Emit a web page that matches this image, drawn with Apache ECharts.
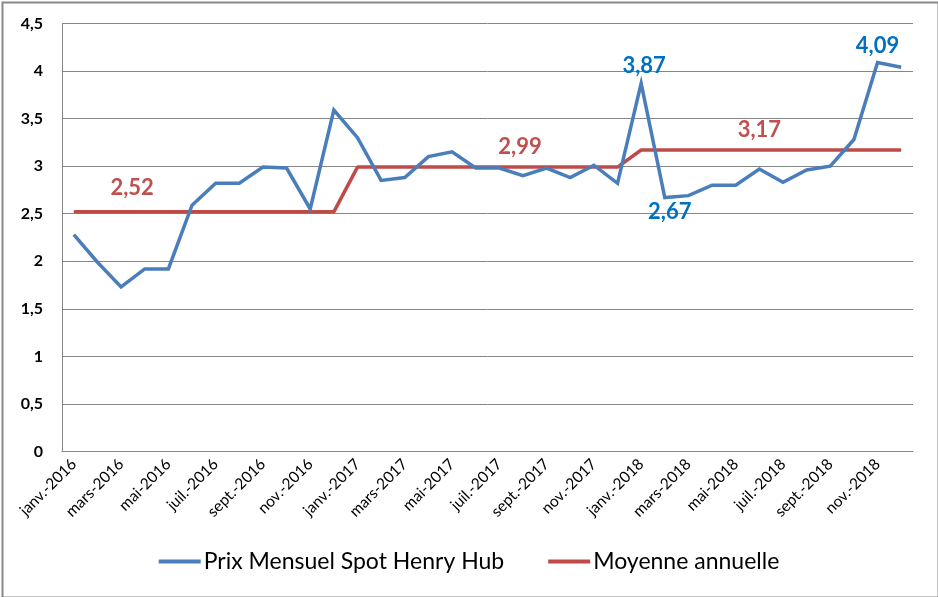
<!DOCTYPE html>
<html>
<head>
<meta charset="utf-8">
<script src="https://cdn.jsdelivr.net/npm/echarts@6/dist/echarts.min.js"></script>
<style>html,body{margin:0;padding:0;background:#fff}#c{width:938px;height:597px}</style>
</head>
<body>
<div id="c"></div>
<script>
const categories = [
  'janv.-2016','févr.-2016','mars-2016','avr.-2016','mai-2016','juin-2016','juil.-2016','août-2016','sept.-2016','oct.-2016','nov.-2016','déc.-2016',
  'janv.-2017','févr.-2017','mars-2017','avr.-2017','mai-2017','juin-2017','juil.-2017','août-2017','sept.-2017','oct.-2017','nov.-2017','déc.-2017',
  'janv.-2018','févr.-2018','mars-2018','avr.-2018','mai-2018','juin-2018','juil.-2018','août-2018','sept.-2018','oct.-2018','nov.-2018','déc.-2018'
];
const prixMensuel = [
  2.28, 1.99, 1.73, 1.92, 1.92, 2.59, 2.82, 2.82, 2.99, 2.98, 2.55, 3.59,
  3.30, 2.85, 2.88, 3.10, 3.15, 2.98, 2.98, 2.90, 2.98, 2.88, 3.01, 2.82,
  3.87, 2.67, 2.69, 2.80, 2.80, 2.97, 2.83, 2.96, 3.00, 3.28, 4.09, 4.04
];
const moyenneAnnuelle = [
  2.52, 2.52, 2.52, 2.52, 2.52, 2.52, 2.52, 2.52, 2.52, 2.52, 2.52, 2.52,
  2.99, 2.99, 2.99, 2.99, 2.99, 2.99, 2.99, 2.99, 2.99, 2.99, 2.99, 2.99,
  3.17, 3.17, 3.17, 3.17, 3.17, 3.17, 3.17, 3.17, 3.17, 3.17, 3.17, 3.17
];
const seriesNames = ['Prix Mensuel Spot Henry Hub', 'Moyenne annuelle'];
// indices of labelled points
const prixLabelIdx = [24, 25, 34];
const moyLabelIdx = [2, 19, 29];

const fmt = v => String(v).replace('.', ',');
const fmt2 = v => v.toFixed(2).replace('.', ',');

const prixLabelStyle = {
  24: {position: 'top', distance: 7, offset: [3, 0]},
  25: {position: 'bottom', distance: 3, offset: [5, 0]},
  34: {position: 'top', distance: 6, offset: [0, 0]}
};
const moyLabelStyle = {
  2: {position: 'top', distance: 13, offset: [11, 0]},
  19: {position: 'top', distance: 9, offset: [-3, 0]},
  29: {position: 'top', distance: 9, offset: [0, 0]}
};

function build(values, idxs, styles, color) {
  return values.map((v, i) => {
    if (idxs.indexOf(i) < 0) return v;
    const s = styles[i];
    return {
      value: v,
      label: {
        show: true, position: s.position, distance: s.distance, offset: s.offset,
        color: color, fontFamily: 'Lato', fontWeight: 'bold', fontSize: 22,
        formatter: p => fmt2(p.value)
      }
    };
  });
}

const chart = echarts.init(document.getElementById('c'), null, {renderer: 'canvas'});
chart.setOption({
  animation: false,
  backgroundColor: '#fff',
  textStyle: {fontFamily: 'Lato'},
  graphic: [{
    type: 'rect', left: 0, top: 0, silent: true, z: 100,
    shape: {x: 1, y: 1, width: 936, height: 595},
    style: {fill: 'none', stroke: '#898989', lineWidth: 2}
  }],
  grid: {left: 62, right: 25, top: 23.5, bottom: 145.5, containLabel: false},
  legend: {
    bottom: 19, left: 'center',
    itemWidth: 42, itemHeight: 4, itemGap: 44, icon: 'rect',
    textStyle: {fontFamily: 'Lato', fontSize: 23, color: '#000', padding: [0, 0, 0, -2]},
    data: seriesNames
  },
  xAxis: {
    type: 'category', data: categories, boundaryGap: true,
    axisLine: {show: true, lineStyle: {color: '#868686', width: 1}},
    axisTick: {show: false},
    axisLabel: {interval: 1, rotate: 45, margin: 10, fontFamily: 'Lato', fontSize: 15.5, color: '#000'},
    splitLine: {show: false}
  },
  yAxis: {
    type: 'value', min: 0, max: 4.5, interval: 0.5,
    axisLine: {show: true, lineStyle: {color: '#868686', width: 1}},
    axisTick: {show: false},
    axisLabel: {margin: 19, fontFamily: 'Lato', fontWeight: 'bold', fontSize: 16, color: '#000', formatter: v => fmt(v)},
    splitLine: {show: true, lineStyle: {color: '#868686', width: 1}}
  },
  series: [
    {
      name: seriesNames[0], type: 'line', symbol: 'circle', symbolSize: 0, showSymbol: true,
      data: build(prixMensuel, prixLabelIdx, prixLabelStyle, '#0070C0'),
      lineStyle: {color: '#4A7EBB', width: 3.5, join: 'miter'},
      itemStyle: {color: '#4A7EBB'},
      z: 3
    },
    {
      name: seriesNames[1], type: 'line', symbol: 'circle', symbolSize: 0, showSymbol: true,
      data: build(moyenneAnnuelle, moyLabelIdx, moyLabelStyle, '#C0504D'),
      lineStyle: {color: '#BE4B48', width: 3.5},
      itemStyle: {color: '#BE4B48'},
      z: 2
    }
  ]
});
</script>
</body>
</html>
